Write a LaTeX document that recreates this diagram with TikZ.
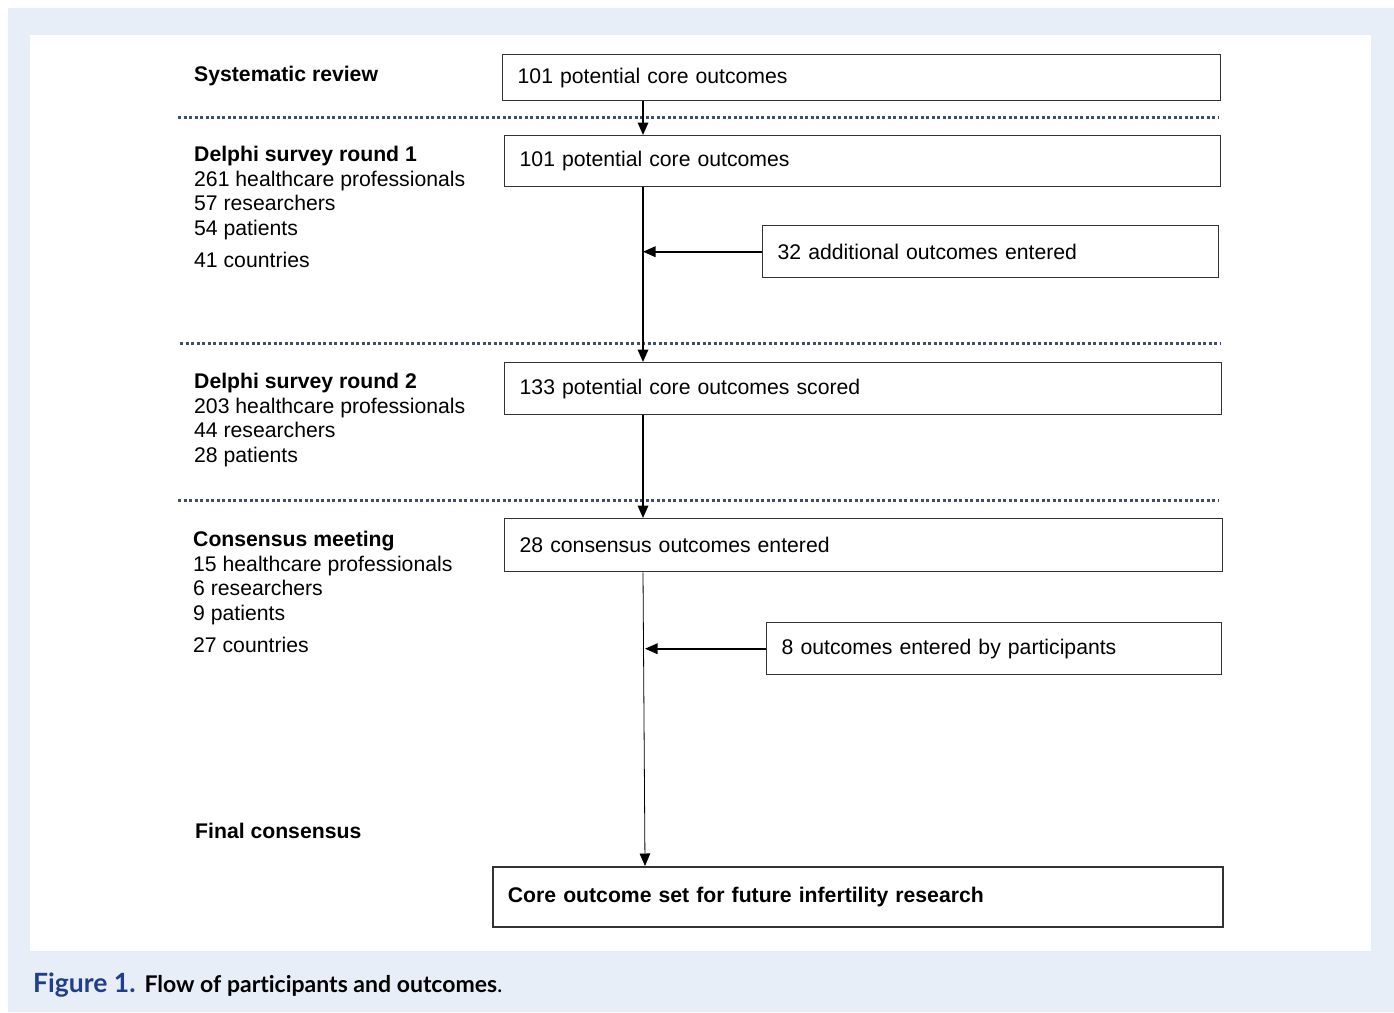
\documentclass[tikz,border=0pt]{standalone}
\usepackage{fontspec}
\setmainfont{Liberation Sans}
\newfontfamily\capfont[Ligatures=NoCommon]{Lato}
\usetikzlibrary{arrows.meta,calc}
\definecolor{bgblue}{HTML}{E7EEF8}
\definecolor{figblue}{HTML}{1F3F8C}
\definecolor{dotcol}{HTML}{3F4E6E}
\definecolor{boxcol}{HTML}{333333}
\begin{document}
\begin{tikzpicture}[x=1pt,y=1pt,
  every node/.style={font=\fontsize{21.2}{24.5}\selectfont},
  box/.style={draw=boxcol,line width=1.4pt,anchor=north west,inner xsep=15pt,inner ysep=0pt,align=left},
  lab/.style={anchor=north west,inner sep=0pt,align=left},
  dotline/.style={dotcol,line width=3pt,dash pattern=on 3pt off 2.5pt},
  arr/.style={line width=1.8pt,-{Triangle[length=12.5pt,width=10.5pt]}},
  thinarr/.style={line width=0.8pt,-{Triangle[length=12.5pt,width=10.5pt]}}]
\useasboundingbox (0,0) rectangle (1394,-1012);
\fill[white] (0,0) rectangle (1394,-1012);
\fill[bgblue] (8,-8) rectangle (1394,-1012);
\fill[white] (30,-35) rectangle (1371,-951);

% dotted separators
\draw[dotline] (178,-117) -- (1218,-117);
\draw[dotline] (180,-343) -- (1220,-343);
\draw[dotline] (178,-500) -- (1218,-500);

% boxes
\node[box,text width=688pt,minimum height=46pt] (b1) at (502,-54) {101 potential core outcomes};
\node[box,text width=686pt,minimum height=51pt] (b2) at (504,-135) {101 potential core outcomes};
\node[box,text width=426pt,minimum height=52pt] (b3) at (762,-225) {32 additional outcomes entered};
\node[box,text width=687pt,minimum height=52pt] (b4) at (504,-362) {133 potential core outcomes scored};
\node[box,text width=688pt,minimum height=53pt] (b5) at (504,-518) {28 consensus outcomes entered};
\node[box,text width=425pt,minimum height=52pt] (b6) at (766,-622) {8 outcomes entered by participants};
\node[box,line width=1.8pt,text width=700pt,minimum height=60pt,font=\fontsize{21.2}{24.5}\selectfont\bfseries] (b7) at (492,-866) {Core outcome set for future infertility research};

% left labels
\node[lab] (l1) at (194,-66) {\textbf{Systematic review}};
\node[lab] (l2) at (194,-146) {\textbf{Delphi survey round 1}\\261 healthcare professionals\\57 researchers\\54 patients\\[8pt]41 countries};
\node[lab] (l3) at (194,-373) {\textbf{Delphi survey round 2}\\203 healthcare professionals\\44 researchers\\28 patients};
\node[lab] (l4) at (193,-531) {\textbf{Consensus meeting}\\15 healthcare professionals\\6 researchers\\9 patients\\[8pt]27 countries};
\node[lab] (l5) at (195,-823) {\textbf{Final consensus}};

% connectors
\coordinate (cx) at (643,0);
\coordinate (cx2) at (645,0);
\draw[arr] (cx |- b1.south) -- (cx |- b2.north);
\draw[arr] (cx |- b2.south) -- (cx |- b4.north);
\draw[arr] (b3.west) -- (b3.west -| cx);
\draw[arr] (cx |- b4.south) -- (cx |- b5.north);
\draw[thinarr] (cx |- b5.south) -- (cx2 |- b7.north);
\draw[arr] (b6.west) -- (b6.west -| cx2);

% caption
\node[anchor=west,inner sep=0pt] (cap) at (33,-985) {{\capfont\fontsize{26.5}{30}\selectfont\bfseries\color{figblue}Figure 1.}\hspace{9pt}{\capfont\fontsize{23}{27}\selectfont\bfseries Flow of participants and outcomes}{\capfont\fontsize{23}{27}\selectfont.}};
\end{tikzpicture}
\end{document}
